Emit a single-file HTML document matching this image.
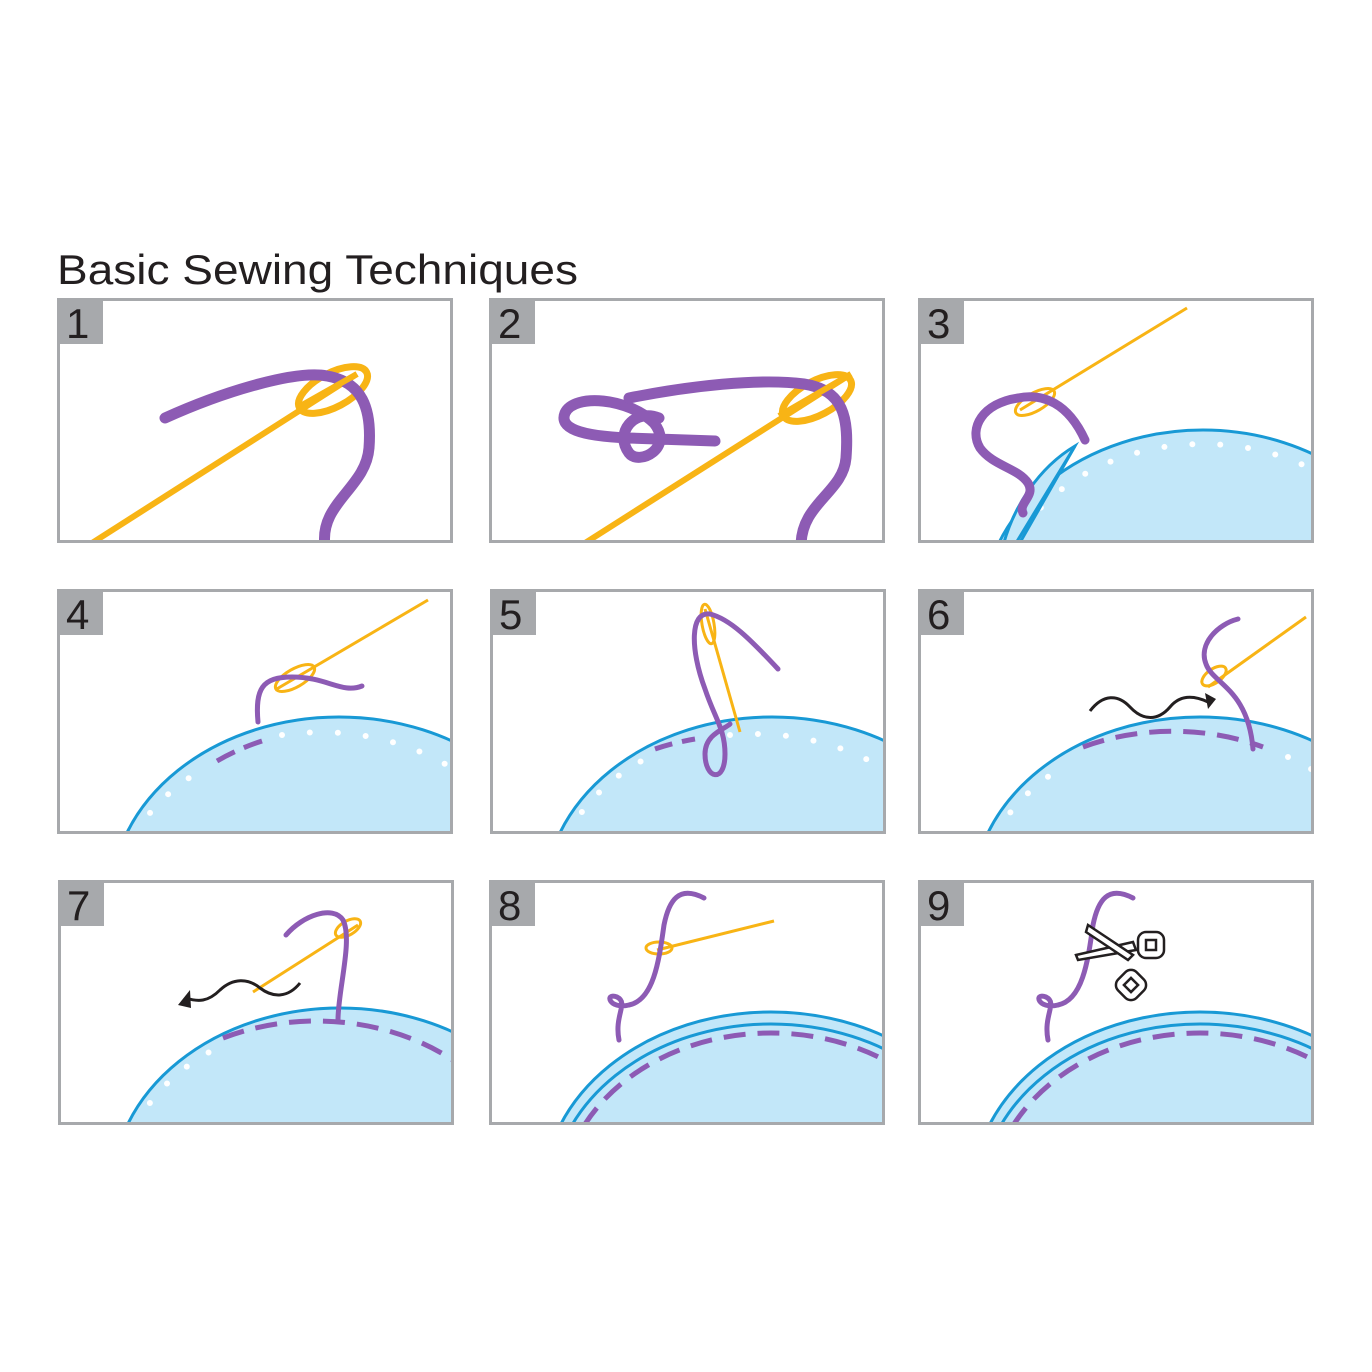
<!DOCTYPE html>
<html><head><meta charset="utf-8"><style>
html,body{margin:0;padding:0;background:#fff;}
svg{display:block;}
</style></head><body>
<svg width="1372" height="1372" viewBox="0 0 1372 1372" xmlns="http://www.w3.org/2000/svg">
<defs>
<clipPath id="pc"><rect x="0" y="0" width="396" height="245"/></clipPath>
<g id="fab">
  <ellipse cx="282" cy="311" rx="228" ry="183" fill="#c2e7f9" stroke="#1899d5" stroke-width="3"/>
</g>
</defs>
<text x="57" y="284" font-family="Liberation Sans, sans-serif" font-size="42" fill="#231f20" textLength="521" lengthAdjust="spacingAndGlyphs">Basic Sewing Techniques</text>

<g font-family="Liberation Sans, sans-serif" font-size="42" fill="#231f20">
<!-- Panel 1 -->
<g transform="translate(57,298)">
 <g clip-path="url(#pc)">
  <line x1="35" y1="245" x2="300" y2="76" stroke="#f8b415" stroke-width="6"/>
  <ellipse cx="276" cy="92" rx="38" ry="17" transform="rotate(-28 276 92)" fill="none" stroke="#f8b415" stroke-width="7"/>
  <path d="M108,120 C170,92 240,72 270,78 C305,84 315,110 312,150 C309,190 262,205 268,248" fill="none" stroke="#8d5bb4" stroke-width="11" stroke-linecap="round"/>
  <path d="M240,110 L300,76" stroke="#f8b415" stroke-width="6"/>
 </g>
 <rect x="1.5" y="1.5" width="393" height="242" fill="none" stroke="#a7a9ac" stroke-width="3"/>
 <rect x="0" y="0" width="46" height="46" fill="#a7a9ac"/><text x="9" y="40">1</text>
</g>
<!-- Panel 2 -->
<g transform="translate(489,298)">
 <g clip-path="url(#pc)">
  <line x1="96" y1="245" x2="362" y2="76" stroke="#f8b415" stroke-width="6"/>
  <ellipse cx="328" cy="100" rx="38" ry="17" transform="rotate(-28 328 100)" fill="none" stroke="#f8b415" stroke-width="7"/>
  <path d="M226,143 L140,140 C90,138 70,130 76,115 C85,95 140,100 165,125 C185,150 150,168 140,155 C125,135 145,110 170,120" fill="none" stroke="#8d5bb4" stroke-width="11" stroke-linecap="round"/>
  <path d="M140,100 C200,88 270,80 315,86 C355,92 360,120 357,160 C354,195 312,205 312,248" fill="none" stroke="#8d5bb4" stroke-width="11" stroke-linecap="round"/>
  <path d="M290,118 L362,76" stroke="#f8b415" stroke-width="6"/>
 </g>
 <rect x="1.5" y="1.5" width="393" height="242" fill="none" stroke="#a7a9ac" stroke-width="3"/>
 <rect x="0" y="0" width="46" height="46" fill="#a7a9ac"/><text x="9" y="40">2</text>
</g>
<!-- Panel 3 -->
<g transform="translate(918,298)">
 <g clip-path="url(#pc)">
  <ellipse cx="285" cy="312" rx="220" ry="180" fill="#c2e7f9" stroke="#1899d5" stroke-width="3"/>
  <ellipse cx="285" cy="312" rx="206" ry="166" fill="none" stroke="#fff" stroke-width="6" stroke-dasharray="0 28" stroke-linecap="round"/>
  <path d="M157,148 C120,170 95,210 85,248 L100,248 Z" fill="#c2e7f9" stroke="#1899d5" stroke-width="3"/>
  <path d="M157,148 L98,245" stroke="#1899d5" stroke-width="3"/>
  <line x1="102" y1="112" x2="269" y2="10" stroke="#f8b415" stroke-width="3"/>
  <ellipse cx="117" cy="104" rx="22" ry="9" transform="rotate(-30 117 104)" fill="none" stroke="#f8b415" stroke-width="3"/>
  <path d="M167,142 C150,105 125,95 100,100 C65,105 50,130 62,150 C75,168 100,170 110,185 C118,198 100,205 105,215" fill="none" stroke="#8d5bb4" stroke-width="9" stroke-linecap="round"/>
 </g>
 <rect x="1.5" y="1.5" width="393" height="242" fill="none" stroke="#a7a9ac" stroke-width="3"/>
 <rect x="0" y="0" width="46" height="46" fill="#a7a9ac"/><text x="9" y="40">3</text>
</g>
<!-- Panel 4 -->
<g transform="translate(57,589)">
 <g clip-path="url(#pc)">
  <use href="#fab"/>
  <path d="M78,245 A213,168 0 0 1 150,178" fill="none" stroke="#fff" stroke-width="6" stroke-dasharray="0 26" stroke-linecap="round"/>
  <path d="M225,146 A213,168 0 0 1 470,270" fill="none" stroke="#fff" stroke-width="6" stroke-dasharray="0 28" stroke-linecap="round"/>
  <path d="M160,172 A213,168 0 0 1 205,152" fill="none" stroke="#8d5bb4" stroke-width="5" stroke-dasharray="20 10"/>
  <line x1="218" y1="101" x2="371" y2="11" stroke="#f8b415" stroke-width="3"/>
  <ellipse cx="238" cy="89" rx="22" ry="9" transform="rotate(-30 238 89)" fill="none" stroke="#f8b415" stroke-width="3"/>
  <path d="M201,133 C198,100 205,88 235,88 C270,88 285,105 305,97" fill="none" stroke="#8d5bb4" stroke-width="5" stroke-linecap="round"/>
 </g>
 <rect x="1.5" y="1.5" width="393" height="242" fill="none" stroke="#a7a9ac" stroke-width="3"/>
 <rect x="0" y="0" width="46" height="46" fill="#a7a9ac"/><text x="9" y="40">4</text>
</g>
<!-- Panel 5 -->
<g transform="translate(490,589)">
 <g clip-path="url(#pc)">
  <use href="#fab"/>
  <path d="M78,245 A213,168 0 0 1 155,170" fill="none" stroke="#fff" stroke-width="6" stroke-dasharray="0 26" stroke-linecap="round"/>
  <path d="M240,146 A213,168 0 0 1 470,270" fill="none" stroke="#fff" stroke-width="6" stroke-dasharray="0 28" stroke-linecap="round"/>
  <path d="M165,160 A213,168 0 0 1 205,150" fill="none" stroke="#8d5bb4" stroke-width="5" stroke-dasharray="18 10"/>
  <path d="M250,143 L215,20" stroke="#f8b415" stroke-width="3"/>
  <ellipse cx="218" cy="35" rx="6" ry="20" transform="rotate(-10 218 35)" fill="none" stroke="#f8b415" stroke-width="3"/>
  <path d="M288,80 C260,50 240,30 220,25 C200,22 200,60 215,100 C225,130 235,140 235,165 C235,195 215,190 215,165 C215,145 235,140 240,135" fill="none" stroke="#8d5bb4" stroke-width="5" stroke-linecap="round"/>
 </g>
 <rect x="1.5" y="1.5" width="393" height="242" fill="none" stroke="#a7a9ac" stroke-width="3"/>
 <rect x="0" y="0" width="46" height="46" fill="#a7a9ac"/><text x="9" y="40">5</text>
</g>
<!-- Panel 6 -->
<g transform="translate(918,589)">
 <g clip-path="url(#pc)">
  <use href="#fab"/>
  <path d="M78,245 A213,168 0 0 1 150,175" fill="none" stroke="#fff" stroke-width="6" stroke-dasharray="0 26" stroke-linecap="round"/>
  <path d="M370,168 A213,168 0 0 1 470,270" fill="none" stroke="#fff" stroke-width="6" stroke-dasharray="0 26" stroke-linecap="round"/>
  <path d="M165,158 A213,168 0 0 1 345,158" fill="none" stroke="#8d5bb4" stroke-width="5" stroke-dasharray="22 12"/>
  <line x1="290" y1="98" x2="388" y2="28" stroke="#f8b415" stroke-width="3"/>
  <ellipse cx="296" cy="87" rx="14" ry="7" transform="rotate(-35 296 87)" fill="none" stroke="#f8b415" stroke-width="3"/>
  <path d="M320,30 C300,35 280,55 288,75 C295,95 330,100 335,160" fill="none" stroke="#8d5bb4" stroke-width="5" stroke-linecap="round"/>
  <path d="M172,122 C185,105 200,105 212,118 C225,132 240,132 252,118 C262,106 275,106 290,113" fill="none" stroke="#231f20" stroke-width="3"/>
  <path d="M287,104 L298,110 L290,120 Z" fill="#231f20"/>
 </g>
 <rect x="1.5" y="1.5" width="393" height="242" fill="none" stroke="#a7a9ac" stroke-width="3"/>
 <rect x="0" y="0" width="46" height="46" fill="#a7a9ac"/><text x="9" y="40">6</text>
</g>
<!-- Panel 7 -->
<g transform="translate(58,880)">
 <g clip-path="url(#pc)">
  <use href="#fab"/>
  <path d="M78,245 A213,168 0 0 1 155,170" fill="none" stroke="#fff" stroke-width="6" stroke-dasharray="0 26" stroke-linecap="round"/>
  <path d="M165,158 A213,168 0 0 1 470,290" fill="none" stroke="#8d5bb4" stroke-width="5" stroke-dasharray="22 12"/>
  <line x1="195" y1="112" x2="300" y2="45" stroke="#f8b415" stroke-width="3"/>
  <ellipse cx="290" cy="48" rx="14" ry="7" transform="rotate(-30 290 48)" fill="none" stroke="#f8b415" stroke-width="3"/>
  <path d="M228,55 C245,35 275,25 285,40 C295,60 280,110 280,140" fill="none" stroke="#8d5bb4" stroke-width="5" stroke-linecap="round"/>
  <path d="M242,103 C230,118 215,118 202,108 C190,98 175,98 162,110 C150,122 140,122 128,118" fill="none" stroke="#231f20" stroke-width="3"/>
  <path d="M132,110 L120,125 L133,128 Z" fill="#231f20"/>
 </g>
 <rect x="1.5" y="1.5" width="393" height="242" fill="none" stroke="#a7a9ac" stroke-width="3"/>
 <rect x="0" y="0" width="46" height="46" fill="#a7a9ac"/><text x="9" y="40">7</text>
</g>
<!-- Panel 8 -->
<g transform="translate(489,880)">
 <g clip-path="url(#pc)">
  <ellipse cx="282" cy="315" rx="228" ry="183" fill="#c2e7f9" stroke="#1899d5" stroke-width="3"/>
  <ellipse cx="282" cy="320" rx="220" ry="176" fill="none" stroke="#1899d5" stroke-width="3"/>
  <ellipse cx="282" cy="323" rx="210" ry="170" fill="none" stroke="#8d5bb4" stroke-width="5" stroke-dasharray="22 12"/>
  <line x1="168" y1="70" x2="285" y2="41" stroke="#f8b415" stroke-width="3"/>
  <ellipse cx="170" cy="68" rx="13" ry="6" fill="none" stroke="#f8b415" stroke-width="3"/>
  <path d="M215,18 C190,5 180,20 175,45 C170,80 165,120 140,125 C120,130 115,112 128,117 C140,123 125,135 130,160" fill="none" stroke="#8d5bb4" stroke-width="5" stroke-linecap="round"/>
 </g>
 <rect x="1.5" y="1.5" width="393" height="242" fill="none" stroke="#a7a9ac" stroke-width="3"/>
 <rect x="0" y="0" width="46" height="46" fill="#a7a9ac"/><text x="9" y="40">8</text>
</g>
<!-- Panel 9 -->
<g transform="translate(918,880)">
 <g clip-path="url(#pc)">
  <ellipse cx="282" cy="315" rx="228" ry="183" fill="#c2e7f9" stroke="#1899d5" stroke-width="3"/>
  <ellipse cx="282" cy="320" rx="220" ry="176" fill="none" stroke="#1899d5" stroke-width="3"/>
  <ellipse cx="282" cy="323" rx="210" ry="170" fill="none" stroke="#8d5bb4" stroke-width="5" stroke-dasharray="22 12"/>
  <path d="M215,18 C190,5 180,20 175,45 C170,80 165,120 140,125 C120,130 115,112 128,117 C140,123 125,135 130,160" fill="none" stroke="#8d5bb4" stroke-width="5" stroke-linecap="round"/>
  <g fill="#fff" stroke="#231f20" stroke-width="2.5">
   <path d="M158,75 L215,62 L218,70 L160,80 Z"/>
   <path d="M170,45 L215,75 L210,80 L168,52 Z"/>
   <rect x="220" y="52" width="26" height="26" rx="8"/>
   <rect x="228" y="60" width="10" height="10"/>
   <rect x="200" y="92" width="26" height="26" rx="8" transform="rotate(45 213 105)"/>
   <rect x="208" y="100" width="10" height="10" transform="rotate(45 213 105)"/>
  </g>
 </g>
 <rect x="1.5" y="1.5" width="393" height="242" fill="none" stroke="#a7a9ac" stroke-width="3"/>
 <rect x="0" y="0" width="46" height="46" fill="#a7a9ac"/><text x="9" y="40">9</text>
</g>
</g>
</svg>
</body></html>
